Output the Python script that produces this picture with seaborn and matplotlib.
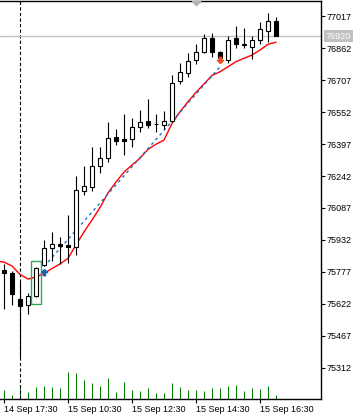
import numpy as np
import pandas as pd
import matplotlib
matplotlib.use("Agg")
import matplotlib.pyplot as plt
import matplotlib.transforms as mtransforms
from matplotlib.path import Path
from matplotlib.patches import Rectangle
import seaborn as sns

# ---------------- data ----------------
opens = [75787, 75774, 75646, 75616, 75661, 75811, 75892, 75911, 75908, 75900,
         76168, 76187, 76289, 76328, 76429, 76420, 76423, 76481, 76508, 76492,
         76488, 76507, 76701, 76743, 76802, 76841, 76909, 76841, 76804, 76909,
         76878, 76869, 76901, 76946, 76991]
highs = [75816, 75782, 75730, 75674, 75803, 75932, 75971, 75945, 76052, 76242,
         76290, 76384, 76384, 76504, 76468, 76542, 76523, 76562, 76615, 76542,
         76557, 76731, 76791, 76838, 76881, 76928, 76935, 76848, 76922, 76970,
         76957, 76918, 76986, 77030, 77011]
lows = [75598, 75617, 75365, 75574, 75658, 75806, 75830, 75814, 75819, 75859,
        76149, 76171, 76258, 76311, 76394, 76345, 76384, 76457, 76476, 76454,
        76471, 76504, 76686, 76721, 76783, 76840, 76820, 76804, 76788, 76861,
        76864, 76807, 76880, 76890, 76920]
closes = [75772, 75670, 75614, 75661, 75795, 75892, 75911, 75904, 75900, 76173,
          76194, 76290, 76329, 76425, 76413, 76413, 76478, 76504, 76490, 76491,
          76507, 76691, 76747, 76801, 76844, 76909, 76841, 76812, 76899, 76880,
          76877, 76901, 76953, 76991, 76920]
volumes = [9, 4, 14, 7, 12, 13, 12, 11, 27, 26, 19, 16, 13, 21, 7, 17, 9, 8, 11, 6,
           6, 16, 12, 9, 9, 8, 11, 11, 13, 14, 8, 11, 10, 13, 4]
ma_index = list(range(-1, 35))
ma_values = [75830, 75825, 75806, 75765, 75743, 75753, 75770, 75794, 75816, 75843,
             75908, 75971, 76029, 76089, 76160, 76213, 76261, 76295, 76328, 76371,
             76396, 76416, 76497, 76553, 76602, 76647, 76688, 76729, 76747, 76771,
             76796, 76812, 76828, 76852, 76880, 76890]
price_ticks = [77017, 76862, 76707, 76552, 76397, 76242, 76087, 75932, 75777,
               75622, 75467, 75312]
time_tick_pos = [0, 8, 16, 24, 32]
time_tick_labels = ["14 Sep 17:30", "15 Sep 10:30", "15 Sep 12:30",
                    "15 Sep 14:30", "15 Sep 16:30"]
current_price = 76920
separator_bar = 2
highlight_bar = 4
entry_bar, entry_price = 5, 75803
exit_bar, exit_price = 27, 76771
scroll_bar = 24

# ---------------- style ----------------
sns.set_style("white")
plt.rcParams["font.family"] = ["Liberation Sans", "DejaVu Sans"]
plt.rcParams["font.size"] = 6.5

W, H = 362, 418
fig = plt.figure(figsize=(W / 100, H / 100), dpi=100)
fig.patch.set_facecolor("white")
ax = fig.add_axes([0, 19 / H, 321 / W, 398 / H])
ax.set_facecolor("white")

df = pd.DataFrame({"open": opens, "high": highs, "low": lows,
                   "close": closes, "volume": volumes})
df["x"] = np.arange(len(df))
up = df["close"] >= df["open"]

# volume (own scale on a twin axis)
axv = ax.twinx()
axv.set_ylim(0, 398)
axv.vlines(df["x"], 0, df["volume"], color="#008000", lw=0.75)
axv.set_yticks([])
for s in axv.spines.values():
    s.set_visible(False)
axv.set_zorder(0)
ax.set_zorder(1)
ax.patch.set_visible(False)

# separator
ax.axvline(separator_bar, color="black", lw=0.8, ls=(0, (3, 2)), zorder=1)
# current price line
ax.axhline(current_price, color="#c0c0c0", lw=1.0, zorder=1)

# red MA
sns.lineplot(x=ma_index, y=ma_values, color="#ff0000", lw=1.0, ax=ax, zorder=2)

# trade line
ax.plot([entry_bar, exit_bar], [entry_price, exit_price], color="#1f6fc5",
        lw=1.0, ls=(0, (2, 2.5)), zorder=2)

# wicks
ax.vlines(df["x"], df["low"], df["high"], color="black", lw=0.8, zorder=3)
# bodies
body_h = (df["close"] - df["open"]).where(lambda s: s.abs() > 1, 1)
ax.bar(df["x"], body_h, bottom=df["open"], width=0.5,
       color=np.where(up, "white", "black"), edgecolor="black", lw=0.8, zorder=4)

# highlight rectangle
ax.add_patch(Rectangle((highlight_bar - 0.6, lows[highlight_bar] - 37), 1.2,
                       highs[highlight_bar] - lows[highlight_bar] + 62,
                       fill=False, ec="#33a852", lw=1.0, zorder=5))

# arrows
up_arrow = Path([(0, 0), (-1, -1), (-0.35, -1), (-0.35, -2), (0.35, -2),
                 (0.35, -1), (1, -1), (0, 0)])
down_arrow = Path([(0, 0), (-1, 1), (-0.35, 1), (-0.35, 2), (0.35, 2),
                   (0.35, 1), (1, 1), (0, 0)])
ax.plot([entry_bar], [entry_price - 10], marker=up_arrow, ms=9, color="#1a64b4",
        mec="#1a64b4", ls="none", zorder=6)
ax.plot([exit_bar], [exit_price + 20], marker=down_arrow, ms=9, color="#ee4a1c",
        mec="#ee4a1c", ls="none", zorder=6)

# axes limits
ax.set_xlim(-0.5, 39.625)
ax.set_ylim(75161.8, 77089.7)

# scroll triangle on top
tri = Path([(-1, 0), (1, 0), (0, -1), (-1, 0)])
ax.plot([scroll_bar], [1.0], marker=tri, ms=6, color="#b4b4b4", mec="#b4b4b4",
        ls="none", clip_on=False, zorder=7,
        transform=mtransforms.blended_transform_factory(ax.transData, ax.transAxes))

# ticks
ax.yaxis.tick_right()
ax.set_yticks(price_ticks)
ax.set_yticklabels([str(p) for p in price_ticks])
ax.set_xticks(time_tick_pos)
ax.set_xticklabels(time_tick_labels)
for lbl in ax.get_xticklabels():
    lbl.set_ha("left")
ax.tick_params(axis="both", direction="out", length=3, width=0.8, color="black",
               labelsize=6.5, labelcolor="black", pad=1)
ax.tick_params(axis="y", left=False, right=True)
ax.tick_params(axis="x", bottom=True, top=False)
ax.set_xlabel("")
ax.set_ylabel("")

for side in ["top", "right", "bottom"]:
    ax.spines[side].set_visible(True)
    ax.spines[side].set_color("black")
    ax.spines[side].set_linewidth(1.0)
ax.spines["left"].set_visible(False)

# current price label
ax.text(1.0 + 5 / 321, current_price, str(current_price), color="white",
        fontsize=6.5, va="center", ha="left",
        transform=mtransforms.blended_transform_factory(ax.transAxes, ax.transData),
        bbox=dict(boxstyle="square,pad=0.2", fc="#c0c0c0", ec="none"),
        clip_on=False, zorder=8)

fig.savefig("out.png", dpi=100, facecolor="white")
